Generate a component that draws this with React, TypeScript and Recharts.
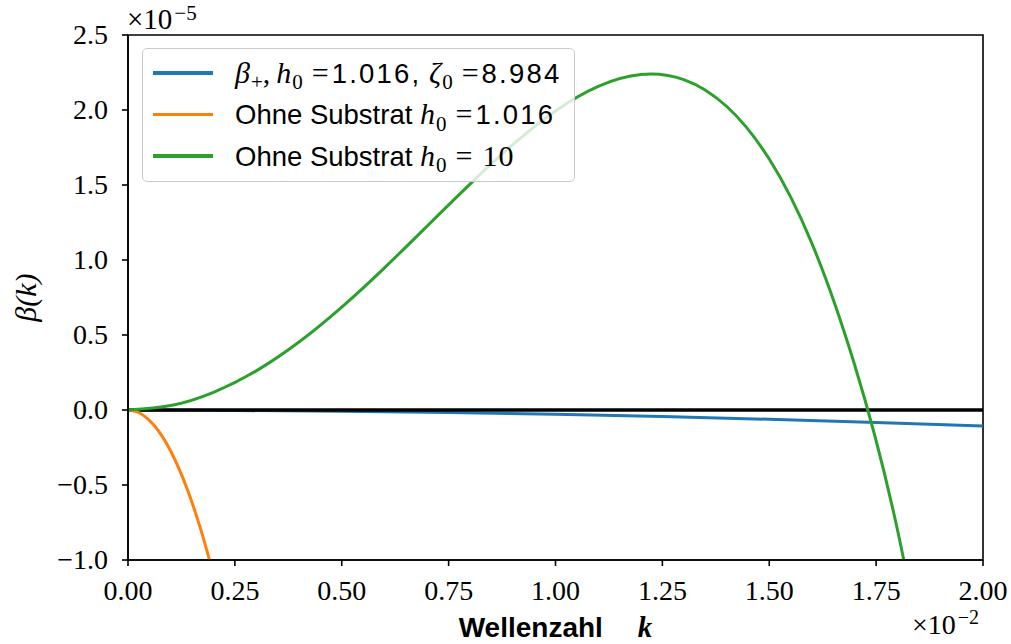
import React from "react";
import {
  LineChart,
  Line,
  XAxis,
  YAxis,
  ReferenceLine,
  ReferenceArea,
  Legend,
} from "recharts";

// wave number k (x 1e-2) and growth rate beta (x 1e-5)
const kPlus = [0, 0.25, 0.5, 0.75, 1.0, 1.25, 1.5, 1.75, 2.0];
const betaPlus = [0, -0.003, -0.009, -0.017, -0.028, -0.043, -0.062, -0.083, -0.107];

const kThin = [0, 0.02, 0.04, 0.06, 0.08, 0.1, 0.12, 0.14, 0.16, 0.18, 0.2];
const betaThin = [0, -0.011, -0.044, -0.099, -0.176, -0.275, -0.396, -0.539, -0.704, -0.891, -1.1];

const kThick = [
  0, 0.1, 0.2, 0.3, 0.4, 0.5, 0.6, 0.7, 0.8, 0.9, 1.0, 1.1, 1.2, 1.3, 1.4, 1.5, 1.6,
  1.7, 1.8, 1.9,
];
const betaThick = [
  0, 0.0298, 0.118, 0.261, 0.453, 0.686, 0.948, 1.227, 1.506, 1.769, 1.994, 2.158,
  2.237, 2.203, 2.025, 1.673, 1.109, 0.298, -0.8, -2.29,
];

const xTicks = [0, 0.25, 0.5, 0.75, 1.0, 1.25, 1.5, 1.75, 2.0];
const yTicks = [-1.0, -0.5, 0.0, 0.5, 1.0, 1.5, 2.0, 2.5];

const BLUE = "#1f77b4";
const ORANGE = "#ff7f0e";
const GREEN = "#2ca02c";

const SERIF = "Liberation Serif";
const SANS = "Liberation Sans";

const toRows = (ks: number[], bs: number[]) => ks.map((k, i) => ({ k, b: bs[i] }));

const plusData = toRows(kPlus, betaPlus);
const thinData = toRows(kThin, betaThin);
const thickData = toRows(kThick, betaThick);

const fmtX = (v: number) => v.toFixed(2);
const fmtY = (v: number) => (v < 0 ? `\u2212${Math.abs(v).toFixed(1)}` : v.toFixed(1));

const mathStyle: React.CSSProperties = { fontFamily: SERIF, fontStyle: "italic", fontSize: 30 };
const subStyle: React.CSSProperties = {
  fontFamily: SERIF,
  fontStyle: "normal",
  fontSize: 21,
  position: "relative",
  top: "0.3em",
  marginLeft: 1,
};
const eqStyle: React.CSSProperties = {
  fontFamily: SERIF,
  fontSize: 30,
  marginLeft: 9,
  marginRight: 3,
};
const numStyle: React.CSSProperties = { letterSpacing: 2.2 };

const legendLabels: React.ReactNode[] = [
  <span>
    <span style={mathStyle}>β</span>
    <span style={subStyle}>+</span>
    <span style={{ fontFamily: SERIF, fontSize: 30, marginRight: 6 }}>,</span>
    <span style={mathStyle}>h</span>
    <span style={subStyle}>0</span>
    <span style={eqStyle}>=</span>
    <span style={numStyle}>1.016,</span>{" "}
    <span style={mathStyle}>ζ</span>
    <span style={subStyle}>0</span>
    <span style={eqStyle}>=</span>
    <span style={numStyle}>8.984</span>
  </span>,
  <span>
    Ohne Substrat <span style={mathStyle}>h</span>
    <span style={subStyle}>0</span>
    <span style={eqStyle}>=</span>
    <span style={numStyle}>1.016</span>
  </span>,
  <span>
    Ohne Substrat <span style={mathStyle}>h</span>
    <span style={subStyle}>0</span>
    <span style={{ ...eqStyle, marginRight: 10 }}>=</span>
    <span style={{ fontFamily: SERIF, fontSize: 30, letterSpacing: 1 }}>10</span>
  </span>,
];
const legendColors = [BLUE, ORANGE, GREEN];

function LegendBox() {
  return (
    <div
      style={{
        width: 433,
        height: 134,
        background: "rgba(255,255,255,0.8)",
        border: "1.5px solid #cccccc",
        borderRadius: 5,
        boxSizing: "border-box",
        paddingTop: 3,
      }}
    >
      {legendColors.map((c, i) => (
        <div
          key={c}
          style={{ display: "flex", alignItems: "center", height: 41.5, whiteSpace: "nowrap" }}
        >
          <div style={{ width: 60, height: 3.5, background: c, marginLeft: 10, marginRight: 22 }} />
          <div style={{ fontFamily: SANS, fontSize: 27.5, color: "#000" }}>{legendLabels[i]}</div>
        </div>
      ))}
    </div>
  );
}

// serif tick labels, placed from the plot edges
const PLOT_BOTTOM = 560;
const PLOT_LEFT = 128;

function renderXTick(props: any) {
  const { x, payload } = props;
  return (
    <text
      key={`xt-${payload.value}`}
      x={x}
      y={PLOT_BOTTOM + 40}
      textAnchor="middle"
      fill="#000"
      style={{ fontFamily: SERIF, fontSize: 28 }}
    >
      {fmtX(payload.value)}
    </text>
  );
}

function renderYTick(props: any) {
  const { y, payload } = props;
  return (
    <text
      key={`yt-${payload.value}`}
      x={PLOT_LEFT - 20}
      y={y + 9}
      textAnchor="end"
      fill="#000"
      style={{ fontFamily: SERIF, fontSize: 28 }}
    >
      {fmtY(payload.value)}
    </text>
  );
}

function XLabel(props: any) {
  const vb = props.viewBox || { x: 128, y: 560, width: 855, height: 30 };
  return (
    <g>
      <text x={vb.x + vb.width / 2} y={vb.y + 77} textAnchor="middle" fill="#000">
        <tspan fontFamily={SANS} fontWeight="bold" fontSize={28}>
          Wellenzahl
        </tspan>
        <tspan dx={35} fontFamily={SERIF} fontStyle="italic" fontWeight="bold" fontSize={29}>
          k
        </tspan>
      </text>
      <text x={vb.x + vb.width - 4} y={vb.y + 74} textAnchor="end" fill="#000" fontFamily={SERIF}>
        <tspan fontSize={28}>×10</tspan>
        <tspan fontSize={20} dx={2} dy={-10}>
          −2
        </tspan>
      </text>
    </g>
  );
}

function YLabel(props: any) {
  const vb = props.viewBox || { x: 68, y: 35, width: 60, height: 525 };
  const cx = vb.x - 43;
  const cy = vb.y + vb.height / 2;
  return (
    <g>
      <text
        x={cx}
        y={cy}
        transform={`rotate(-90 ${cx} ${cy})`}
        textAnchor="middle"
        dominantBaseline="central"
        fill="#000"
        fontFamily={SERIF}
        fontStyle="italic"
        fontSize={30}
      >
        β(k)
      </text>
      <text x={vb.x + vb.width - 1} y={vb.y - 6} fill="#000" fontFamily={SERIF}>
        <tspan fontSize={29}>×10</tspan>
        <tspan fontSize={21} dx={2} dy={-9}>
          −5
        </tspan>
      </text>
    </g>
  );
}

export default function App() {
  return (
    <div style={{ position: "absolute", left: 0, top: 0, background: "#fff" }}>
      <LineChart width={1011} height={644} margin={{ top: 35, right: 28, bottom: 54, left: 68 }}>
        <XAxis
          dataKey="k"
          type="number"
          domain={[0, 2]}
          ticks={xTicks}
          allowDataOverflow
          tick={renderXTick}
          tickSize={6}
          tickMargin={0}
          height={30}
          axisLine={{ stroke: "#000", strokeWidth: 1.6 }}
          tickLine={{ stroke: "#000", strokeWidth: 1.6 }}
          label={{ content: XLabel }}
        />
        <YAxis
          type="number"
          domain={[-1, 2.5]}
          ticks={yTicks}
          allowDataOverflow
          tick={renderYTick}
          tickSize={6}
          tickMargin={14}
          width={60}
          axisLine={{ stroke: "#000", strokeWidth: 1.6 }}
          tickLine={{ stroke: "#000", strokeWidth: 1.6 }}
          label={{ content: YLabel }}
        />
        <ReferenceArea
          x1={0}
          x2={2}
          y1={-1}
          y2={2.5}
          fill="none"
          fillOpacity={0}
          stroke="#000"
          strokeWidth={1.6}
        />
        <Line
          data={plusData}
          dataKey="b"
          name="beta_plus"
          stroke={BLUE}
          strokeWidth={3}
          dot={false}
          type="natural"
          isAnimationActive={false}
        />
        <ReferenceLine y={0} stroke="#000" strokeWidth={3.5} />
        <Line
          data={thinData}
          dataKey="b"
          name="thin"
          stroke={ORANGE}
          strokeWidth={3}
          dot={false}
          type="natural"
          isAnimationActive={false}
        />
        <Line
          data={thickData}
          dataKey="b"
          name="thick"
          stroke={GREEN}
          strokeWidth={3}
          dot={false}
          type="natural"
          isAnimationActive={false}
        />
        <Legend
          layout="vertical"
          align="center"
          verticalAlign="middle"
          content={() => <LegendBox />}
          wrapperStyle={{ left: 142, top: 48, width: 433, height: 134 }}
        />
      </LineChart>
    </div>
  );
}
